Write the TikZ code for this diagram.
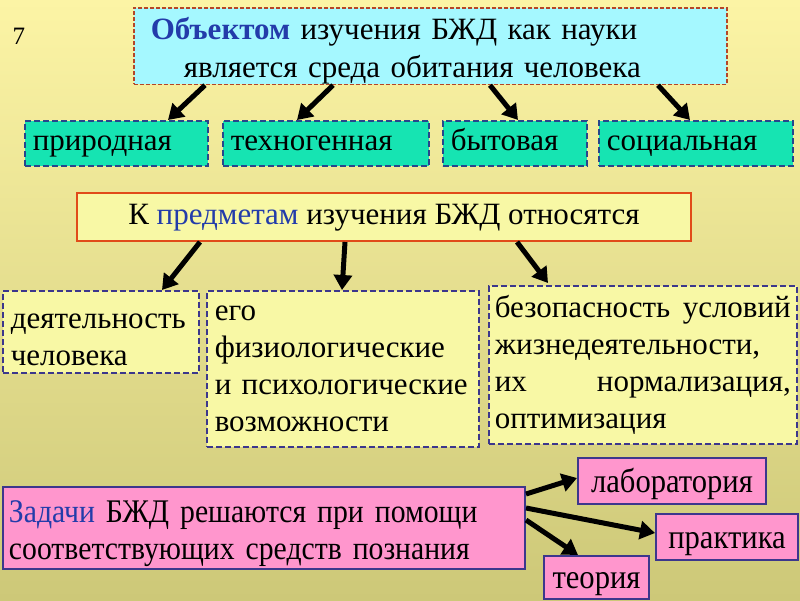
\documentclass[tikz,border=0pt]{standalone}
\usepackage{fontspec}
\setmainfont{Liberation Serif}
\newfontfamily\condf[FakeStretch=0.9]{Liberation Serif}
\usetikzlibrary{arrows.meta,calc}
\definecolor{bgtop}{RGB}{252,244,165}
\definecolor{bgbot}{RGB}{205,200,120}
\definecolor{cyanfill}{RGB}{165,248,255}
\definecolor{tqfill}{RGB}{22,228,178}
\definecolor{ylfill}{RGB}{248,248,165}
\definecolor{pinkfill}{RGB}{255,150,205}
\definecolor{brownline}{RGB}{180,70,40}
\definecolor{orangeline}{RGB}{225,75,25}
\definecolor{navyline}{RGB}{40,70,140}
\definecolor{purpline}{RGB}{60,55,140}
\definecolor{bluetext}{RGB}{35,60,170}
\tikzset{
  body/.style={font=\fontsize{31}{37}\selectfont},
  topbox/.style={draw=brownline, line width=1.6pt, dash pattern=on 4pt off 2pt, fill=cyanfill, anchor=north west, inner sep=0pt, align=left},
  tqbox/.style={draw=navyline, line width=1.6pt, dash pattern=on 6pt off 3pt, fill=tqfill, anchor=north west, inner xsep=8pt, inner ysep=0pt, align=left, body},
  midbox/.style={draw=orangeline, line width=2pt, fill=ylfill, anchor=north west, inner sep=0pt, align=center, body},
  ylbox/.style={draw=purpline, line width=1.6pt, dash pattern=on 6pt off 3pt, fill=ylfill, anchor=north west, inner xsep=8pt, inner ysep=0pt, align=left, body},
  pinkbox/.style={draw=purpline, line width=2pt, fill=pinkfill, anchor=north west, inner xsep=6pt, inner ysep=0pt, align=left, font=\condf\fontsize{33}{37}\selectfont},
  lblbox/.style={pinkbox, align=center, font=\condf\fontsize{34}{37}\selectfont},
  arr/.style={draw=black, line width=5pt, -{Triangle[length=15pt,width=18pt]}},
}
\begin{document}
\begin{tikzpicture}[x=1pt,y=-1pt]
\useasboundingbox (0,0) rectangle (800,600);
\shade[top color=bgtop, bottom color=bgbot] (0,0) rectangle (800,600);

\node[anchor=west, font=\fontsize{25}{28}\selectfont] (num) at (9,36) {7};

\node[topbox, minimum width=593pt, minimum height=76pt, text width=559pt, font=\fontsize{31}{38}\selectfont] (obj) at (133,7)
  {\rule{0pt}{32pt}{\bfseries\color{bluetext}Объектом} изучения БЖД как науки\\\hspace*{33pt}является среда обитания человека};

\node[tqbox, text width=167pt, minimum height=45pt] (nat) at (24,120) {\strut природная};
\node[tqbox, text width=190pt, minimum height=45pt] (tech) at (222,120) {\strut техногенная};
\node[tqbox, text width=128pt, minimum height=45pt] (byt) at (442,120) {\strut бытовая};
\node[tqbox, text width=178pt, minimum height=45pt] (soc) at (598,120) {\strut социальная};

\draw[arr] (obj.south -| 205,0) -- (nat.north -| 168,0);
\draw[arr] (obj.south -| 333,0) -- (tech.north -| 297,0);
\draw[arr] (obj.south -| 490,0) -- (byt.north -| 518,0);
\draw[arr] (obj.south -| 658,0) -- (soc.north -| 690,0);

\node[midbox, minimum width=614pt, minimum height=48pt] (pred) at (76,192)
  {\strut К {\color{bluetext}предметам} изучения БЖД относятся};

\node[ylbox, text width=180pt, minimum height=82pt] (dey) at (2,290) {\rule{0pt}{30pt}деятельность\\человека};
\node[ylbox, text width=256pt, minimum height=156pt] (ego) at (206,290) {его\\физиологические\\и психологические\\возможности};
\node[ylbox, text width=296pt, minimum height=158pt, inner xsep=6pt] (bez) at (488,285)
  {\leavevmode\hbox to 296pt{безопасность\hfill условий}\\жизнедеятельности,\\\leavevmode\hbox to 296pt{их\hfill нормализация,}\\оптимизация};

\draw[arr] (pred.south -| 200,0) -- (dey.north -| 162,0);
\draw[arr] (pred.south -| 345,0) -- (ego.north -| 342,0);
\draw[arr] (pred.south -| 517,0) -- ($(bez.north -| 548,0)+(0,-2)$);

\node[pinkbox, text width=510pt, minimum height=82pt] (zad) at (2,486)
  {\rule{0pt}{33pt}{\color{bluetext}Задачи} БЖД решаются при помощи\\соответствующих средств познания};

\node[lblbox, minimum width=188pt, minimum height=46pt] (lab) at (577,457) {\rule[-6pt]{0pt}{36pt}лаборатория};
\node[lblbox, minimum width=142pt, minimum height=46pt] (prak) at (655,513) {\rule[-6pt]{0pt}{36pt}практика};
\node[lblbox, minimum width=105pt, minimum height=43pt] (teor) at (543,555) {\rule[-6pt]{0pt}{36pt}теория};

\draw[arr] (zad.east |- 0,494) -- (lab.west |- 0,478);
\draw[arr] (zad.east |- 0,508) -- (prak.west |- 0,533);
\draw[arr] (zad.east |- 0,520) -- (teor.north -| 578,0);
\end{tikzpicture}
\end{document}
